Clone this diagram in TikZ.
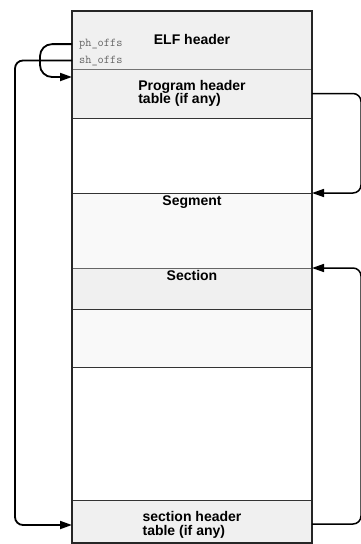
\documentclass[tikz,border=0pt]{standalone}
\usepackage{fontspec}
\setmainfont{Liberation Sans}
\usetikzlibrary{arrows.meta,positioning,calc}
\tikzset{
  band/.style={draw=black!80,line width=0.8pt,rectangle,minimum width=240pt,inner sep=0pt,outer sep=0pt,anchor=north},
  hdrband/.style={band,fill=black!6},
  segband/.style={band,fill=black!2.5},
  lbl/.style={font=\fontsize{14}{13.5}\selectfont\bfseries,align=left,inner sep=0pt},
  offs/.style={font=\fontsize{12}{12}\selectfont\ttfamily,text=black!60,inner sep=0pt},
  arr/.style={-{Triangle[length=12pt,width=8pt]},line width=1.5pt,rounded corners=8pt}
}

\begin{document}
\begin{tikzpicture}[x=1pt,y=-1pt]
  \useasboundingbox (0,0) rectangle (360,544);
  % File layout, top to bottom
  \node[hdrband, minimum height=58pt] (elf) at (192,11) {};
  \node[hdrband, minimum height=49pt, draw=black!55] (phdr) at (192,69) {};
  \node[band, minimum height=75pt] (gap1) at (192,118) {};
  \node[segband, minimum height=75pt] (seg) at (192,193) {};
  \node[hdrband, minimum height=41pt, draw=black!60] (sect) at (192,268) {};
  \node[segband, minimum height=58pt] (tail) at (192,309) {};
  \node[band, minimum height=133pt] (gap2) at (192,367) {};
  \node[hdrband, minimum height=43pt] (shdr) at (192,500) {};
  \draw[line width=1.4pt, black!85] (elf.north west) rectangle (shdr.south east);

  % Labels
  \node[lbl, anchor=base] (elftxt) at (192,44) {ELF header};
  \node[offs, anchor=base west] (phoff) at (79,46.5) {ph\_offs};
  \node[offs, anchor=base west] (shoff) at (79,63) {sh\_offs};
  \node[lbl] (phtxt) at (phdr) {Program header\\table (if any)};
  \node[lbl, anchor=base] (segtxt) at (192,205) {Segment};
  \node[lbl, anchor=base] (secttxt) at (192,280) {Section};
  \node[lbl] (shtxt) at (192,525) {section header\\table (if any)};

  % Offsets from the ELF header
  \draw[arr, line width=1.8pt, rounded corners=12pt] (elf.west |- phoff) -- ++(-32,0) |- ([yshift=-8pt]phdr.north west);
  \draw[arr, line width=1.8pt] (elf.west |- shoff) -- ++(-57,0) |- ([yshift=-25pt]shdr.north west);

  % Tables pointing into the file
  \draw[arr] (phdr.east) -- ++(49,0) |- (seg.north east);
  \draw[arr] ([yshift=-24pt]shdr.north east) -- ++(49,0) |- (sect.north east);
\end{tikzpicture}
\end{document}
